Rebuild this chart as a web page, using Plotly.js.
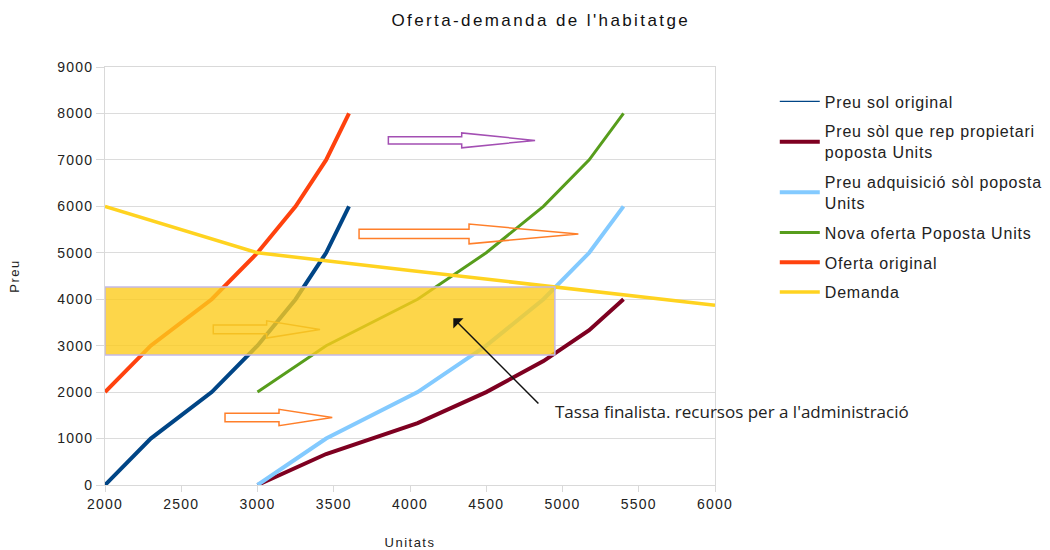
<!DOCTYPE html>
<html><head><meta charset="utf-8">
<script src="https://cdn.plot.ly/plotly-3.0.1.min.js"></script>
<style>
html,body{margin:0;padding:0;background:#fff;}
#chart{width:1050px;height:550px;}
.legendtext{letter-spacing:0.8px;}
.gtitle{letter-spacing:2.4px;}
.xtick text,.ytick text{letter-spacing:1.2px;}
.xtitle,.ytitle{letter-spacing:1.5px;}
</style></head>
<body><div id="chart"></div>
<script>
// ---- data ----
const supplyPrice = [0, 1000, 2000, 3000, 4000, 5000, 6000];
const unitsOriginal = [2000, 2300, 2700, 3000, 3250, 3450, 3600];
const unitsProposal = [3000, 3450, 4050, 4500, 4875, 5175, 5400];
const preuSolOriginal = [0, 1000, 2000, 3000, 4000, 5000, 6000];
const preuSolPropietari = [0, 667, 1333, 2000, 2667, 3333, 4000];
const preuAdquisicio = [0, 1000, 2000, 3000, 4000, 5000, 6000];
const novaOferta = [2000, 3000, 4000, 5000, 6000, 7000, 8000];
const ofertaOriginal = [2000, 3000, 4000, 5000, 6000, 7000, 8000];
const demandaUnits = [2000, 3000, 4000, 5000, 6000];
const demandaPreu = [6000, 5000, 4620, 4250, 3870];
const xTicks = [2000, 2500, 3000, 3500, 4000, 4500, 5000, 5500, 6000];
const yTicks = [0, 1000, 2000, 3000, 4000, 5000, 6000, 7000, 8000, 9000];
// band of the tax (units range, price range)
const bandUnits = [2000, 4950];
const bandPrice = [2800, 4265];
// block arrows: [x start, head start, tip, y centre, body half-height, head half-height, colour]
const blockArrows = [
  [2710, 3060, 3410, 3350, 95, 185, '#d8903a'],
  [3858, 4339, 4820, 7420, 80, 160, '#a34fb3'],
  [3666, 4387, 5104, 5405, 100, 212, '#ff7f2a'],
  [2787, 3141, 3490, 1453, 90, 176, '#ff7f2a']
];
const noteText = "Tassa finalista. recursos per a l'administració";
const noteTip = [4284, 3590];
const noteTail = [4852, 1723];
const notePos = [4935, 1593];

const traces = [
  {x: unitsOriginal, y: preuSolOriginal, name: 'Preu sol original', mode: 'lines',
   line: {color: '#004586', width: 4}, showlegend: false},
  {x: [null], y: [null], name: 'Preu sol original', mode: 'lines', legendgroup: 'a',
   line: {color: '#004586', width: 1.2}},
  {x: unitsProposal, y: preuSolPropietari, name: 'Preu sòl que rep propietari<br>poposta Units', mode: 'lines', legendgroup: 'b',
   line: {color: '#7e0021', width: 4}},
  {x: unitsProposal, y: preuAdquisicio, name: 'Preu adquisició sòl poposta<br>Units', mode: 'lines', legendgroup: 'c',
   line: {color: '#83caff', width: 4}},
  {x: unitsProposal, y: novaOferta, name: 'Nova oferta Poposta Units', mode: 'lines', legendgroup: 'd',
   line: {color: '#579d1c', width: 3}},
  {x: unitsOriginal, y: ofertaOriginal, name: 'Oferta original', mode: 'lines', legendgroup: 'e',
   line: {color: '#ff420e', width: 4}},
  {x: demandaUnits, y: demandaPreu, name: 'Demanda', mode: 'lines', legendgroup: 'f',
   line: {color: '#ffd320', width: 3.5}}
];

function arrowPath(a) {
  const [x0, x1, x2, yc, bh, hh] = a;
  return 'M' + x0 + ',' + (yc + bh) + ' L' + x1 + ',' + (yc + bh) + ' L' + x1 + ',' + (yc + hh) +
    ' L' + x2 + ',' + yc + ' L' + x1 + ',' + (yc - hh) + ' L' + x1 + ',' + (yc - bh) +
    ' L' + x0 + ',' + (yc - bh) + ' Z';
}
const shapes = [];
shapes.push({type: 'path', xref: 'x', yref: 'y', path: arrowPath(blockArrows[0]), layer: 'above',
  line: {color: blockArrows[0][6], width: 1.5}, fillcolor: 'rgba(0,0,0,0)'});
shapes.push({type: 'rect', xref: 'x', yref: 'y', x0: bandUnits[0], x1: bandUnits[1], y0: bandPrice[0], y1: bandPrice[1],
  layer: 'above', fillcolor: 'rgba(252,204,29,0.8)', line: {color: '#c4b9e6', width: 1.5}});
for (let i = 1; i < blockArrows.length; i++) {
  shapes.push({type: 'path', xref: 'x', yref: 'y', path: arrowPath(blockArrows[i]), layer: 'above',
    line: {color: blockArrows[i][6], width: 1.5}, fillcolor: 'rgba(0,0,0,0)'});
}

const tickFont = {family: 'Liberation Sans, Arial, sans-serif', size: 14, color: '#222'};
const layout = {
  width: 1050, height: 550,
  margin: {l: 105, r: 335, t: 67, b: 65, autoexpand: false},
  paper_bgcolor: '#fff', plot_bgcolor: '#fff',
  title: {text: "Oferta-demanda de l'habitatge", x: 0.515, xanchor: 'center', y: 0.963, yanchor: 'middle',
    font: {family: 'Liberation Sans, Arial, sans-serif', size: 17, color: '#111'}},
  xaxis: {range: [2000, 6000], tickvals: xTicks, ticktext: xTicks.map(String), showgrid: false,
    ticks: 'outside', ticklen: 6, tickcolor: '#d9d9d9', showline: true, linecolor: '#d9d9d9', mirror: true,
    zeroline: false, tickfont: tickFont,
    title: {text: 'Unitats', font: {family: 'Liberation Sans, sans-serif', size: 13, color: '#222'}, standoff: 28}},
  yaxis: {range: [0, 9000], tickvals: yTicks, ticktext: yTicks.map(String), showgrid: true, gridcolor: '#dcdcdc',
    ticks: 'outside', ticklen: 8, tickcolor: '#d9d9d9', showline: true, linecolor: '#d9d9d9', mirror: true,
    zeroline: false, tickfont: tickFont,
    title: {text: 'Preu', font: {family: 'Liberation Sans, sans-serif', size: 13, color: '#222'}, standoff: 34}},
  legend: {x: 1.098, xanchor: 'left', y: 0.958, yanchor: 'top', bgcolor: 'rgba(0,0,0,0)',
    font: {family: 'Liberation Sans, sans-serif', size: 16, color: '#222'}, tracegroupgap: 6, itemwidth: 40},
  shapes: shapes,
  annotations: [
    {x: noteTip[0], y: noteTip[1], ax: noteTail[0], ay: noteTail[1], axref: 'x', ayref: 'y', xref: 'x', yref: 'y',
     text: '', showarrow: true, arrowhead: 1, arrowsize: 1.6, arrowwidth: 1.5, arrowcolor: '#111'},
    {x: notePos[0], y: notePos[1], xref: 'x', yref: 'y', text: noteText, showarrow: false, xanchor: 'left', yanchor: 'middle',
     font: {family: 'Open Sans, sans-serif', size: 17, color: '#222'}}
  ]
};
Plotly.newPlot('chart', traces, layout, {displayModeBar: false, staticPlot: true});
</script></body></html>
